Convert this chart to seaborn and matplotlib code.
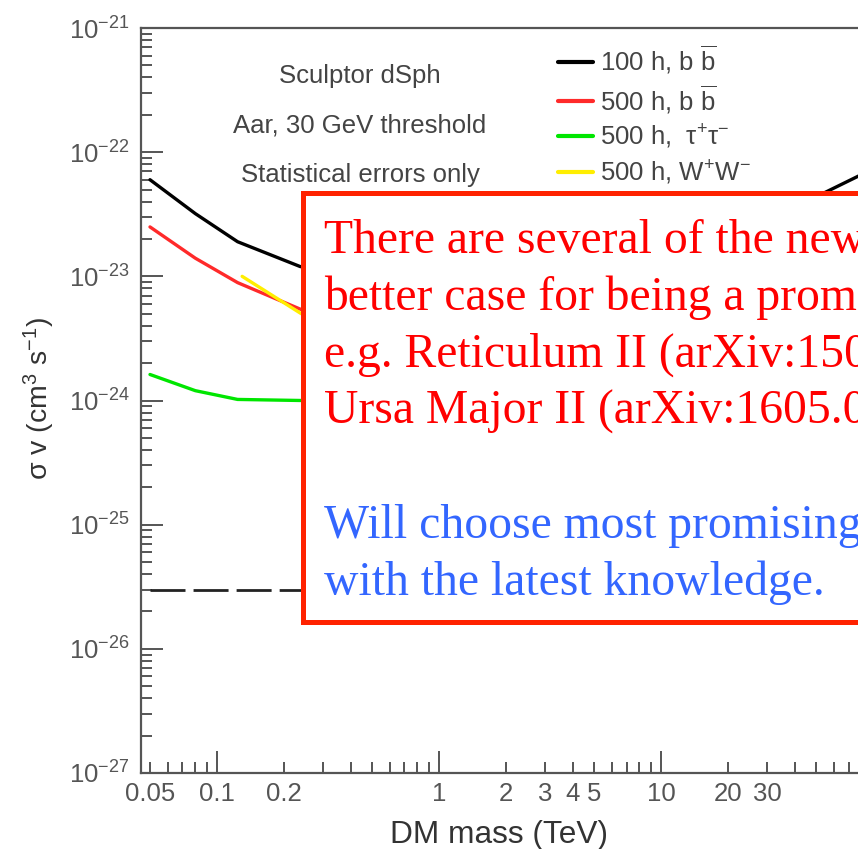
import numpy as np
import pandas as pd
import matplotlib
matplotlib.use("Agg")
import matplotlib.pyplot as plt
import seaborn as sns
from matplotlib.patches import Rectangle
from matplotlib.ticker import FixedLocator, FuncFormatter, LogLocator, NullFormatter

# ---------------- data ----------------
series_labels = [r"100 h, b $\overline{\mathrm{b}}$",
                 r"500 h, b $\overline{\mathrm{b}}$",
                 r"500 h,  τ$^{+}$τ$^{-}$",
                 r"500 h, W$^{+}$W$^{-}$"]
series_colors = ["#000000", "#ff2a2a", "#00e600", "#ffee00"]

mass_100h_bb = [0.05, 0.08, 0.124, 0.237, 0.5, 1, 2, 5, 10, 20, 53, 80]
sv_100h_bb = [6.0e-23, 3.2e-23, 1.9e-23, 1.2e-23, 9.5e-24, 9.0e-24, 1.0e-23,
              1.4e-23, 2.0e-23, 2.9e-23, 4.6e-23, 6.6e-23]
mass_500h_bb = [0.05, 0.08, 0.124, 0.24, 0.5, 1, 2, 5, 10, 20, 50, 80]
sv_500h_bb = [2.5e-23, 1.4e-23, 8.9e-24, 5.4e-24, 4.0e-24, 3.8e-24, 4.2e-24,
              5.5e-24, 7.5e-24, 1.1e-23, 1.8e-23, 2.5e-23]
mass_500h_tautau = [0.05, 0.08, 0.124, 0.24, 0.5, 1, 2, 5, 10, 20, 50, 80]
sv_500h_tautau = [1.62e-24, 1.2e-24, 1.02e-24, 1.0e-24, 1.1e-24, 1.3e-24, 1.6e-24,
                  2.3e-24, 3.2e-24, 4.6e-24, 8.0e-24, 1.1e-23]
mass_500h_ww = [0.13, 0.176, 0.24, 0.5, 1, 2, 5, 10, 20, 50, 80]
sv_500h_ww = [1.0e-23, 7.1e-24, 5.0e-24, 3.6e-24, 3.5e-24, 4.0e-24, 5.3e-24,
              7.3e-24, 1.05e-23, 1.8e-23, 2.4e-23]
mass_relic = [0.05, 100]
sv_relic = [3e-26, 3e-26]

x_tick_labels = [0.05, 0.1, 0.2, 1, 2, 3, 4, 5, 10, 20, 30]
y_major_ticks = [1e-27, 1e-26, 1e-25, 1e-24, 1e-23, 1e-22, 1e-21]

info_lines = ["Sculptor dSph", "Aar, 30 GeV threshold", "Statistical errors only"]
box_red_lines = ["There are several of the new",
                 "better case for being a prom",
                 "e.g. Reticulum II (arXiv:150",
                 "Ursa Major II (arXiv:1605.0"]
box_blue_lines = ["Will choose most promising",
                  "with the latest knowledge."]

# ---------------- table for seaborn ----------------
frames = []
for lab, m, s in zip(series_labels,
                     [mass_100h_bb, mass_500h_bb, mass_500h_tautau, mass_500h_ww],
                     [sv_100h_bb, sv_500h_bb, sv_500h_tautau, sv_500h_ww]):
    frames.append(pd.DataFrame({"mass": m, "sv": s, "series": lab}))
df = pd.concat(frames, ignore_index=True)

sns.set_style("white")
plt.rcParams["font.family"] = ["Liberation Sans", "DejaVu Sans"]
plt.rcParams["mathtext.fontset"] = "custom"
plt.rcParams["mathtext.rm"] = "Liberation Sans"
plt.rcParams["mathtext.it"] = "Liberation Sans:italic"
plt.rcParams["mathtext.bf"] = "Liberation Sans:bold"
plt.rcParams["mathtext.sf"] = "Liberation Sans"
plt.rcParams["axes.unicode_minus"] = False

W, H = 858, 849
fig = plt.figure(figsize=(W / 100, H / 100), dpi=100)
fig.patch.set_facecolor("white")
ax = fig.add_axes([141 / W, 76 / H, 742 / W, 745 / H])

sns.lineplot(data=df, x="mass", y="sv", hue="series", hue_order=series_labels,
             palette=dict(zip(series_labels, series_colors)), linewidth=2.4,
             estimator=None, sort=True, ax=ax)
sns.lineplot(x=mass_relic, y=sv_relic, color="#222222", linewidth=2.0,
             linestyle=(0, (12.6, 2.9)), legend=False, ax=ax)

ax.set_xscale("log")
ax.set_yscale("log")
ax.set_xlim(0.04555, 100)
ax.set_ylim(1e-27, 1e-21)

spine_col = "#555555"
for sp in ax.spines.values():
    sp.set_color(spine_col)
    sp.set_linewidth(1.6)

# x ticks
ax.xaxis.set_major_locator(FixedLocator([0.1, 1, 10, 100]))
minors = [k * 10.0 ** e for e in range(-2, 2) for k in range(2, 10)]
minors = [v for v in minors if v >= 0.045]
ax.xaxis.set_minor_locator(FixedLocator(minors))

def xfmt(v, pos):
    for t in x_tick_labels:
        if np.isclose(v, t):
            return f"{t:g}"
    return ""

def yfmt(v, pos):
    return r"10$^{%d}$" % int(round(np.log10(v)))

ax.xaxis.set_major_formatter(FuncFormatter(xfmt))
ax.xaxis.set_minor_formatter(FuncFormatter(xfmt))

# y ticks
ax.yaxis.set_major_locator(FixedLocator(y_major_ticks))
ax.yaxis.set_minor_locator(LogLocator(base=10, subs=np.arange(2, 10), numticks=100))
ax.yaxis.set_major_formatter(FuncFormatter(yfmt))
ax.yaxis.set_minor_formatter(NullFormatter())

ax.tick_params(which="both", direction="in", color=spine_col, width=1.4,
               labelcolor="#555555", labelsize=18.5,
               bottom=True, left=True, top=False, right=False)
ax.tick_params(which="major", length=15.8)
ax.tick_params(which="minor", length=7.9)
ax.tick_params(axis="x", which="both", pad=6.5)
ax.tick_params(axis="y", which="both", pad=8)

ax.set_xlabel("DM mass (TeV)", fontsize=22.8, color="#333333")
ax.set_ylabel("σ v (cm$^{3}$ s$^{-1}$)", fontsize=20.5, color="#333333")
ax.xaxis.set_label_coords((499 - 141) / 742, (773 - 820) / 745)
ax.yaxis.set_label_coords((57 - 141) / 742, (773 - 399) / 745)

# legend
old = ax.get_legend()
handles = old.legend_handles
labels = [t.get_text() for t in old.get_texts()]
old.remove()
for h_ in handles:
    h_.set_linewidth(3.0)
ax.legend(handles, labels, loc="upper left",
          bbox_to_anchor=(558 / W, 1 - 44 / H), bbox_transform=fig.transFigure,
          frameon=False, fontsize=18.5, handlelength=1.36, handletextpad=0.27,
          labelspacing=0.28, borderpad=0, borderaxespad=0,
          labelcolor="#444444")

# info text
for yb, txt in zip([83, 132, 182], info_lines):
    fig.text(360 / W, 1 - yb / H, txt, ha="center", va="baseline",
             fontsize=18.5, color="#444444")

# red overlay box
box = Rectangle((303 / W, 1 - 622 / H), (920 - 303) / W, (622 - 193) / H,
                transform=fig.transFigure, facecolor="white",
                edgecolor="#ff2200", linewidth=3.6, zorder=5)
fig.add_artist(box)

for yb, txt in zip([253, 310, 367, 424], box_red_lines):
    t = fig.text(324 / W, 1 - yb / H, txt, ha="left", va="baseline",
                 fontsize=34.3, color="#ff0000", family="Liberation Serif")
    t.set_zorder(6)
for yb, txt in zip([538, 595], box_blue_lines):
    t = fig.text(324 / W, 1 - yb / H, txt, ha="left", va="baseline",
                 fontsize=34.3, color="#3366ff", family="Liberation Serif")
    t.set_zorder(6)

fig.savefig("out.png", dpi=100)
